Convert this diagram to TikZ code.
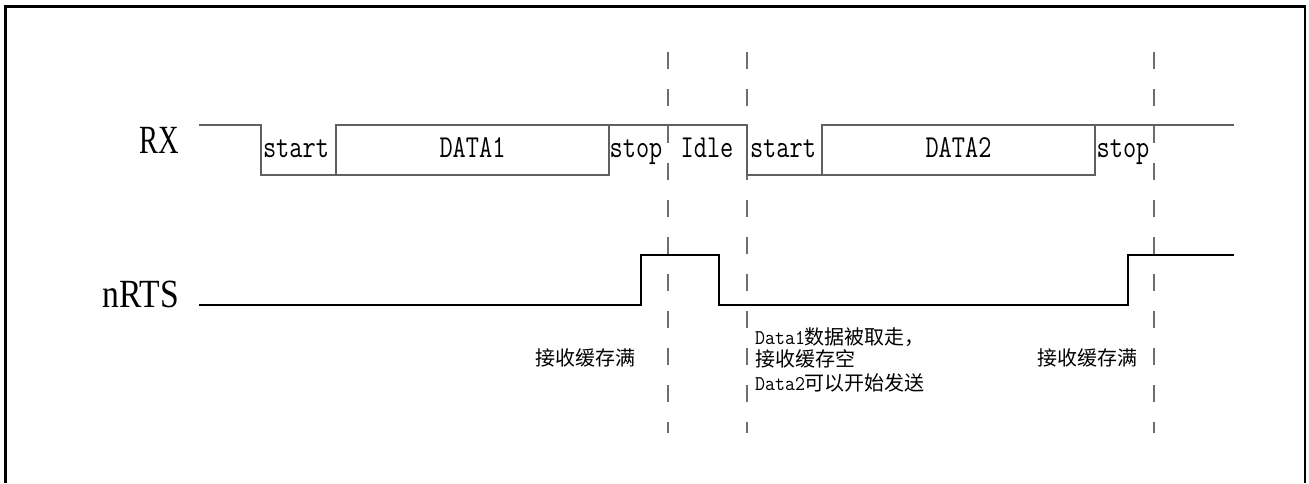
\documentclass[tikz,border=0pt]{standalone}
\usepackage{fontspec}
\setmainfont{Liberation Serif}
\newfontfamily\cjk{Noto Sans CJK SC}
\newcommand\fieldtxt[1]{\scalebox{0.8}[1]{\ttfamily\fontsize{32}{32}\selectfont #1}}
\newcommand\smalltt[1]{\scalebox{0.92}[1]{\ttfamily\fontsize{21}{21}\selectfont #1}}
\definecolor{rxgray}{RGB}{96,96,96}
\definecolor{dashgray}{RGB}{110,110,110}
\begin{document}
\begin{tikzpicture}[x=1pt,y=-1pt,
  frame/.style={line width=2.5pt, draw=black},
  rxline/.style={line width=1.4pt, draw=rxgray},
  rtsline/.style={line width=1.4pt, draw=black},
  guide/.style={line width=1.3pt, draw=dashgray, dash pattern=on 17pt off 20pt},
  siglabel/.style={font=\fontsize{40}{40}\selectfont, inner sep=0pt, anchor=base east},
  boxlabel/.style={inner sep=0pt, anchor=base},
  note/.style={font=\fontsize{20}{20}\selectfont, inner sep=0pt, anchor=base west}
]
\useasboundingbox (0,0) rectangle (1309,483);
% frame
\draw[frame] (5.5,483) -- (5.5,6.5) -- (1305,6.5) -- (1305,483);

% guide lines
\draw[guide] (668,52) -- (668,433);
\draw[guide] (747,52) -- (747,433);
\draw[guide] (1154,52) -- (1154,433);

% RX waveform
\draw[rxline] (199,125) -- (261,125) -- (261,175) -- (609,175) -- (609,125);
\draw[rxline] (336,175) -- (336,125) -- (747,125) -- (747,175) -- (1095,175) -- (1095,125);
\draw[rxline] (822,175) -- (822,125) -- (1234,125);

% nRTS waveform
\draw[rtsline] (199,305) -- (641,305) -- (641,255) -- (719,255) -- (719,305)
  -- (1128,305) -- (1128,255) -- (1234,255);

% signal names
\node[siglabel] (rx) at (179,153) {\scalebox{0.71}[1]{RX}};
\node[siglabel] (nrts) at (179,307) {\scalebox{0.84}[1]{nRTS}};

% field labels
\node[boxlabel] (start1) at (296,157) {\fieldtxt{start}};
\node[boxlabel] (data1) at (472.5,157) {\fieldtxt{DATA1}};
\node[boxlabel] (stop1) at (636,157) {\fieldtxt{stop}};
\node[boxlabel] (idle) at (707,157) {\fieldtxt{Idle}};
\node[boxlabel] (start2) at (783,157) {\fieldtxt{start}};
\node[boxlabel] (data2) at (958.5,157) {\fieldtxt{DATA2}};
\node[boxlabel] (stop2) at (1123,157) {\fieldtxt{stop}};

% notes
\node[note, anchor=base] (full1) at (585,365) {\cjk 接收缓存满};
\node[note, anchor=base] (full2) at (1087,365) {\cjk 接收缓存满};
\node[note] (n1) at (755,344) {\smalltt{Data1}{\cjk 数据被取走，}};
\node[note] (n2) at (755,366) {\cjk 接收缓存空};
\node[note] (n3) at (755,390) {\smalltt{Data2}{\cjk 可以开始发送}};
\end{tikzpicture}
\end{document}
